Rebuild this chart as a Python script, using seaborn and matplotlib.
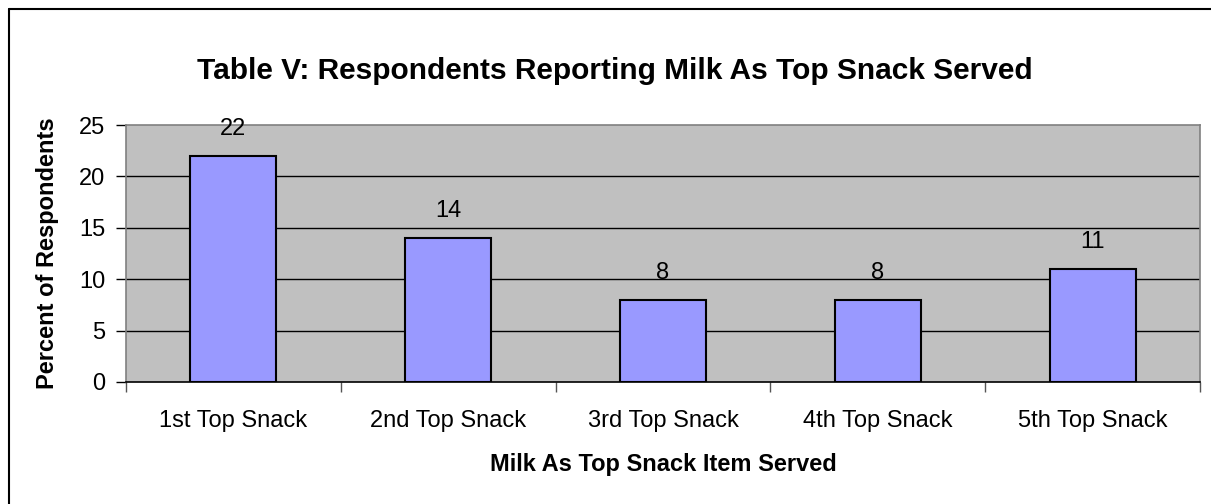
import matplotlib
matplotlib.use("Agg")
import matplotlib.pyplot as plt
import seaborn as sns
import pandas as pd
from matplotlib.lines import Line2D

categories = ["1st Top Snack", "2nd Top Snack", "3rd Top Snack", "4th Top Snack", "5th Top Snack"]
values = [22, 14, 8, 8, 11]
yticks = [0, 5, 10, 15, 20, 25]

sns.set_style("white")
plt.rcParams['font.family'] = ['Liberation Sans', 'DejaVu Sans']
plt.rcParams['text.color'] = 'black'
plt.rcParams['axes.labelcolor'] = 'black'
plt.rcParams['xtick.color'] = 'black'
plt.rcParams['ytick.color'] = 'black'

W, H = 1211, 504
fig = plt.figure(figsize=(W / 100, H / 100), dpi=100)
ax = fig.add_axes([126 / W, 1 - 382 / H, (1200 - 126) / W, (382 - 125) / H])
ax.set_facecolor("#C0C0C0")

df = pd.DataFrame({"cat": categories, "val": values})
sns.barplot(data=df, x="cat", y="val", ax=ax, color="#9999FF", width=0.4,
            edgecolor="black", linewidth=1.5, saturation=1, zorder=3)

ax.set_ylim(0, 25)
ax.set_xlim(-0.5, len(categories) - 0.5)
ax.set_yticks(yticks)
ax.set_yticklabels([str(t) for t in yticks], fontsize=17)
for t in yticks[1:-1]:
    ax.axhline(t, color="black", linewidth=1, zorder=1)

ax.set_xticks(range(len(categories)))
ax.set_xticklabels(categories, fontsize=17)
ax.tick_params(axis="x", length=0, pad=20)
ax.set_xticks([i - 0.5 for i in range(len(categories) + 1)], minor=True)
ax.tick_params(axis="x", which="minor", length=7, width=1, color="#555555", direction="out", bottom=True)
ax.tick_params(axis="y", length=7, width=1, color="black", direction="out", left=True, pad=8)

for s in ["left", "right", "top"]:
    ax.spines[s].set_color("#808080")
    ax.spines[s].set_linewidth(1.2)
ax.spines["bottom"].set_color("black")
ax.spines["bottom"].set_linewidth(1.2)

for i, v in enumerate(values):
    ax.text(i, v + 2.6, str(v), ha="center", va="center", fontsize=17, zorder=4)

ax.set_xlabel("Milk As Top Snack Item Served", fontsize=17, fontweight="bold")
ax.set_ylabel("Percent of Respondents", fontsize=17, fontweight="bold")
ax.xaxis.set_label_coords(0.5, (382 - 465) / 257)
ax.xaxis.label.set_va("center")
ax.yaxis.set_label_coords((48 - 126) / 1074, 0.5)
ax.yaxis.label.set_va("center")

fig.text(615 / W, 1 - 71 / H, "Table V: Respondents Reporting Milk As Top Snack Served",
         ha="center", va="center", fontsize=21.5, fontweight="bold")

fig.add_artist(Line2D([8.5 / W, 8.5 / W], [0, 1 - 8.5 / H], transform=fig.transFigure, color="black", linewidth=1.5))
fig.add_artist(Line2D([8.5 / W, 1], [1 - 8.5 / H, 1 - 8.5 / H], transform=fig.transFigure, color="black", linewidth=1.5))

fig.savefig("out.png", dpi=100)
